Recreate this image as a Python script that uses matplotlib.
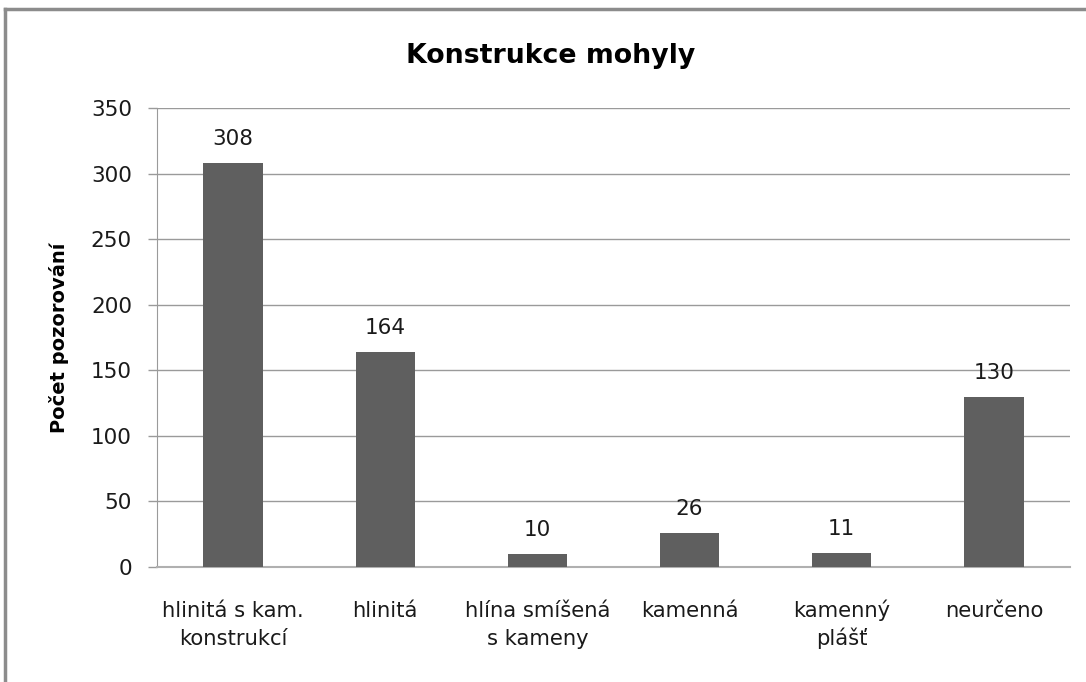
import matplotlib
matplotlib.use("Agg")
import matplotlib.pyplot as plt
import matplotlib.transforms as mtransforms
from matplotlib.lines import Line2D

categories = ["hlinitá s kam.\nkonstrukcí", "hlinitá", "hlína smíšená\ns kameny",
              "kamenná", "kamenný\nplášť", "neurčeno"]
values = [308, 164, 10, 26, 11, 130]
yticks = [0, 50, 100, 150, 200, 250, 300, 350]

plt.rcParams['font.family'] = ['DejaVu Sans']

W, H = 1086, 682
fig = plt.figure(figsize=(W / 100, H / 100), dpi=100)
fig.patch.set_facecolor('white')

# partial frame (left + top edges)
fig.add_artist(Line2D([5 / W, 5 / W], [0, 1 - 9 / H], transform=fig.transFigure,
                      color='#8c8c8c', lw=2.5))
fig.add_artist(Line2D([5 / W, 1], [1 - 9 / H, 1 - 9 / H], transform=fig.transFigure,
                      color='#8c8c8c', lw=2.5))

left, right, top, bottom = 157, 1070, 108, 567
ax = fig.add_axes([left / W, 1 - bottom / H, (right - left) / W, (bottom - top) / H])

x = list(range(len(categories)))
ax.bar(x, values, width=0.39, color='#5f5f5f', zorder=3)
for xi, v in zip(x, values):
    ax.annotate(str(v), (xi, v), xytext=(0, 10), textcoords='offset points',
                ha='center', va='bottom', fontsize=15.5, color='#1a1a1a')

ax.set_xlim(-0.5, len(categories) - 0.5)
ax.set_ylim(0, 350)
ax.set_yticks(yticks)
ax.set_yticklabels([str(t) for t in yticks], fontsize=15.5, color='#1a1a1a')
ax.set_xticks(x)
ax.set_xticklabels([''] * len(categories))
ax.tick_params(axis='x', length=0)
ax.tick_params(axis='y', length=6.5, width=1, color='#9a9a9a', pad=11.5)

# category labels: each line placed on its own baseline (50 px and 78 px below axis)
base = ax.get_xaxis_transform()
for xi, cat in zip(x, categories):
    for i, line in enumerate(cat.split("\n")):
        off = mtransforms.ScaledTranslation(0, -(50 + 28 * i) / 100, fig.dpi_scale_trans)
        ax.text(xi, 0, line, transform=base + off, ha='center', va='baseline',
                fontsize=15.2, color='#1a1a1a', clip_on=False)

ax.yaxis.grid(True, color='#9a9a9a', lw=1, zorder=0)
for s in ['top', 'right']:
    ax.spines[s].set_visible(False)
ax.spines['left'].set_color('#9a9a9a')
ax.spines['bottom'].set_color('#b0b0b0')
ax.spines['bottom'].set_linewidth(1.5)

ax.set_ylabel("Počet pozorování", fontsize=14, fontweight='bold', va='center')
ax.yaxis.set_label_coords((59 - left) / (right - left), 0.5)
fig.text(551 / W, 1 - 63 / H, "Konstrukce mohyly", ha='center', va='baseline',
         fontsize=19.3, fontweight='bold')

fig.savefig("out.png", dpi=100, facecolor='white')
